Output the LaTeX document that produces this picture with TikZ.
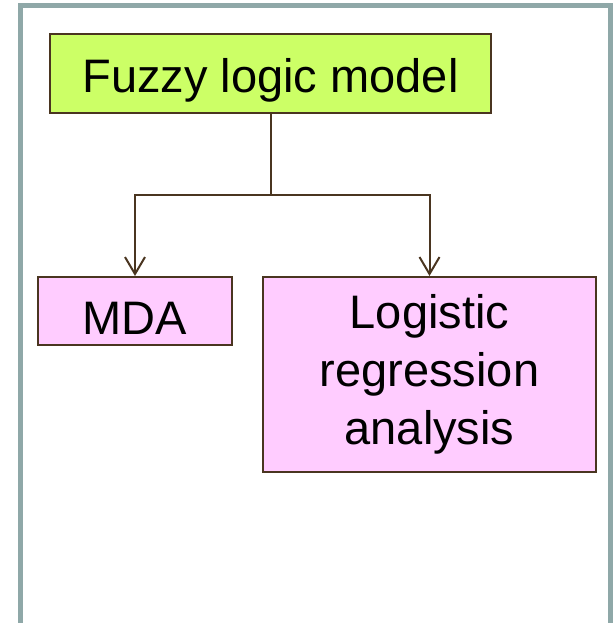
\documentclass[tikz,border=0pt]{standalone}
\usepackage{fontspec}
\setmainfont{Liberation Sans}
\usetikzlibrary{arrows.meta}
\definecolor{framegrey}{HTML}{8FA8A8}
\definecolor{boxline}{HTML}{4A3520}
\definecolor{limegreen}{HTML}{CCFF66}
\definecolor{softpink}{HTML}{FFCCFF}
\tikzset{
  box/.style={draw=boxline, line width=2pt, inner sep=0pt, align=center,
    font=\fontsize{47}{58}\selectfont},
  link/.style={draw=boxline, line width=2pt},
}
\begin{document}
\begin{tikzpicture}[x=1pt, y=-1pt]
		\useasboundingbox (0,0) rectangle (613,623);
		\draw[framegrey, line width=5pt] (20.5,5.5) rectangle (610.5,625);
		
		\node[box, fill=limegreen, minimum width=441pt, minimum height=79pt, text height=39pt, text depth=0pt] (fuzzy) at (270.5,73.5) {Fuzzy logic model};
		\node[box, fill=softpink, minimum width=194pt, minimum height=68pt, text height=46pt, text depth=0pt] (mda) at (135,311) {MDA};
		\node[box, fill=softpink, minimum width=333pt, minimum height=195pt] (logit) at (429.5,374.5) {Logistic\\regression\\analysis};
		
		\coordinate (split) at (270.5,195);
		\path[link] (fuzzy) -- (split);
		\path[link, -{Straight Barb[length=17pt, width=20pt, line width=2pt]}] (split) -| (mda.north);
		\path[link, -{Straight Barb[length=17pt, width=20pt, line width=2pt]}] (split) -| (logit.north);
		\end{tikzpicture}
\end{document}
